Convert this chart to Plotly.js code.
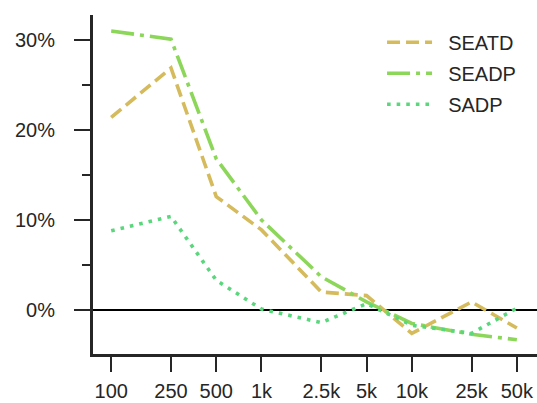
<!DOCTYPE html>
<html>
<head>
<meta charset="utf-8">
<script src="https://cdn.plot.ly/plotly-3.0.1.min.js"></script>
<style>html,body{margin:0;padding:0;background:#fff;}#chart{width:537px;height:403px;}</style>
</head>
<body>
<div id="chart"></div>
<script>
const sampleSizes = [100, 250, 500, 1000, 2500, 5000, 10000, 25000, 50000];
const tickLabels = ['100', '250', '500', '1k', '2.5k', '5k', '10k', '25k', '50k'];
const seatd = [21.4, 26.9, 12.6, 8.9, 2.0, 1.6, -2.6, 0.9, -2.0];
const seadp = [31.0, 30.1, 16.8, 10.0, 3.7, 0.9, -1.5, -2.7, -3.3];
const sadp  = [8.8, 10.4, 3.3, 0.1, -1.4, 0.7, -1.7, -2.6, 0.2];
const yTicks = [0, 10, 20, 30];
const yTickLabels = ['0%', '10%', '20%', '30%'];

const pad = '\u00a0\u00a0';
const traces = [
  {x: sampleSizes, y: seatd, name: pad + 'SEATD', legendgroup: 'a', mode: 'lines', line: {color: '#d5bb5c', width: 3.6, dash: '13px,6px'}},
  {x: sampleSizes, y: seadp, name: pad + 'SEADP', legendgroup: 'b', mode: 'lines', line: {color: '#8cd65a', width: 3.6, dash: '23px,6px,4px,6px'}},
  {x: sampleSizes, y: sadp,  name: pad + 'SADP',  legendgroup: 'c', mode: 'lines', line: {color: '#5ad77c', width: 3.6, dash: '3.6px,6px'}}
];

const layout = {
  width: 537, height: 403,
  margin: {l: 92.5, r: 0, t: 15, b: 49, pad: 0},
  paper_bgcolor: '#fff', plot_bgcolor: '#fff',
  font: {family: '"Liberation Sans", Arial, sans-serif', size: 20, color: '#262626'},
  showlegend: true,
  legend: {x: 0.651, y: 0.977, xanchor: 'left', yanchor: 'top', bgcolor: 'rgba(0,0,0,0)',
           font: {size: 20, color: '#262626'}, itemwidth: 45, traceorder: 'grouped', tracegroupgap: 2},
  xaxis: {
    type: 'log', range: [1.879, 4.833],
    tickvals: sampleSizes, ticktext: tickLabels,
    ticks: 'outside', ticklen: 15, tickwidth: 2, tickcolor: '#262626',
    showline: true, linewidth: 3, linecolor: '#262626',
    showgrid: false, zeroline: false, ticklabelstandoff: 2
  },
  yaxis: {
    range: [-4.89, 32.78],
    tickvals: yTicks, ticktext: yTickLabels,
    ticks: 'outside', ticklen: 16, tickwidth: 2, tickcolor: '#262626',
    minor: {dtick: 5, tick0: 0, ticks: 'outside', ticklen: 8, tickwidth: 2, tickcolor: '#262626', showgrid: false},
    showline: true, linewidth: 3, linecolor: '#262626',
    showgrid: false, zeroline: true, zerolinecolor: '#000', zerolinewidth: 2,
    ticklabelstandoff: 15
  }
};

Plotly.newPlot('chart', traces, layout, {displayModeBar: false, staticPlot: true});
</script>
</body>
</html>
